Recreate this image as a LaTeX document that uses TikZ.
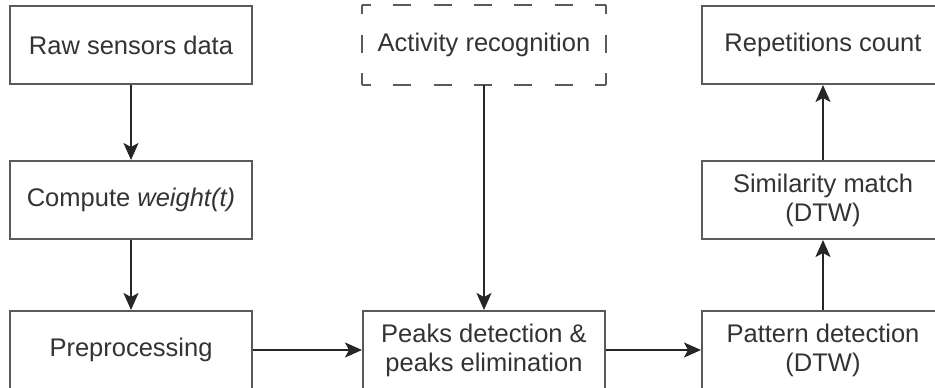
\documentclass[tikz,border=0pt]{standalone}
\usepackage{fontspec}
\setmainfont{Liberation Sans}
\usetikzlibrary{arrows.meta}
\definecolor{boxline}{HTML}{5A5A5A}
\definecolor{txt}{HTML}{333333}
\definecolor{arr}{HTML}{262626}
\begin{document}
\begin{tikzpicture}[x=1pt,y=-1pt,
  stage/.style={draw=boxline, line width=2pt, rectangle, minimum width=242pt,
    minimum height=78pt, inner sep=0pt, text=txt, align=center,
    font=\fontsize{25.5}{29}\selectfont},
  ghost/.style={stage, draw=none},
  hside/.style={draw=boxline, line width=2pt, dash pattern=on 18pt off 22.3pt, dash phase=9pt},
  vside/.style={draw=boxline, line width=2pt, dash pattern=on 18pt off 20.5pt, dash phase=9pt},
  flow/.style={draw=arr, line width=2pt, -{Stealth[length=17pt,width=15pt,inset=4pt]}}]
  \useasboundingbox (0,0) rectangle (935,388);
  \clip (0,0) rectangle (935,388);

  % left column
  \node[stage] (raw)  at (131,45)  {Raw sensors data};
  \node[stage] (comp) at (131,200) {Compute \textit{weight(t)}};
  \node[stage] (pre)  at (131,350) {Preprocessing};

  % middle column
  \node[ghost] (act)   at (484,45)  {Activity recognition};
  \node[stage] (peaks) at (484,350) {Peaks detection \&\\peaks elimination};

  % right column
  \node[stage] (rep) at (823,45)  {Repetitions count};
  \node[stage] (sim) at (823,200) {Similarity match\\(DTW)};
  \node[stage] (pat) at (823,350) {Pattern detection\\(DTW)};

  % dashed outline of the optional stage, one side at a time
  \path[hside] (act.north west) -- (act.north east);
  \path[hside] (act.south west) -- (act.south east);
  \path[vside] (act.north west) -- (act.south west);
  \path[vside] (act.north east) -- (act.south east);

  % connectors
  \draw[flow] (raw) -- (comp);
  \draw[flow] (comp) -- (pre);
  \draw[flow] (pre) -- (peaks);
  \draw[flow] (act) -- (peaks);
  \draw[flow] (peaks) -- (pat);
  \draw[flow] (pat) -- (sim);
  \draw[flow] (sim) -- (rep);
\end{tikzpicture}
\end{document}
